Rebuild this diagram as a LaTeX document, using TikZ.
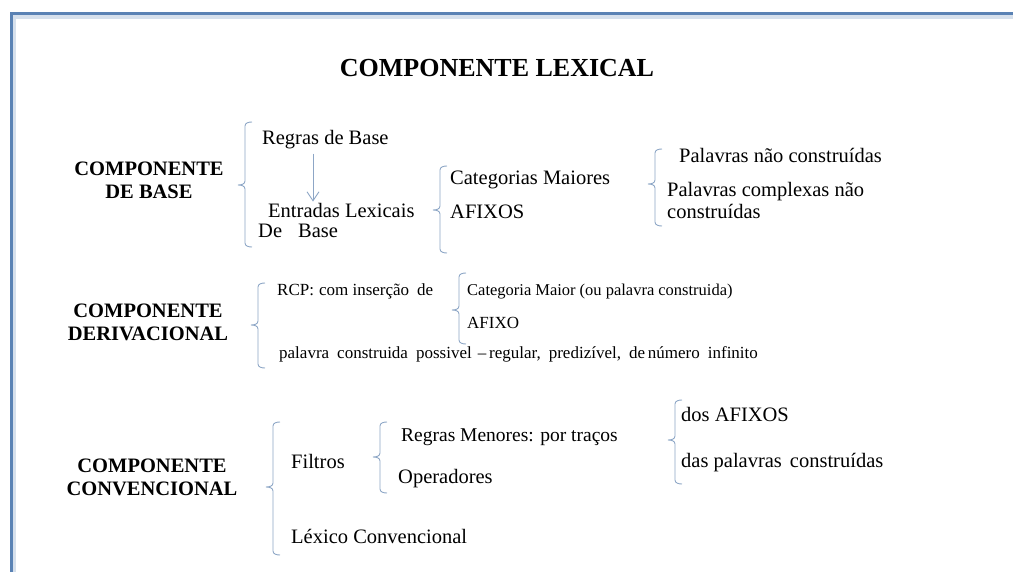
\documentclass[tikz,border=0pt]{standalone}
\usepackage{fontspec}
\setmainfont{Liberation Serif}
\usetikzlibrary{arrows.meta}
\definecolor{framecol}{HTML}{5A82B4}
\definecolor{brkcol}{HTML}{8DA6C6}
\tikzset{
  txt/.style={inner sep=0pt, anchor=base west, font=\fontsize{20.5}{23}\selectfont},
  sml/.style={inner sep=0pt, anchor=base west, font=\fontsize{17}{19}\selectfont},
  head/.style={inner sep=0pt, align=center, font=\fontsize{20.5}{23}\selectfont\bfseries},
  brk/.style={draw=brkcol, line width=0.9pt},
  arr/.style={draw=brkcol, line width=0.9pt, -{Straight Barb[length=9pt,width=12pt]}}
}
\newcommand{\lbrk}[4]{% x, top, bottom, middle
  \draw[brk] (#1+7,#2) to[out=180,in=90] (#1,#2+4) -- (#1,#4-4) to[out=-90,in=0] (#1-7,#4)
    to[out=0,in=90] (#1,#4+4) -- (#1,#3-4) to[out=-90,in=180] (#1+7,#3);}
\begin{document}
\begin{tikzpicture}[x=1pt,y=-1pt]
\useasboundingbox (0,0) rectangle (1013,572);
\fill[white] (0,0) rectangle (1013,572);
% frame
\draw[framecol!25, line width=4pt] (14,572) -- (14,17) -- (1013,17);
\draw[framecol, line width=3pt] (11,572) -- (11,13.5) -- (1013,13.5);
% title
\node[inner sep=0pt, anchor=base, font=\fontsize{26}{30}\selectfont\bfseries] (title) at (497,77) {COMPONENTE LEXICAL};

% ---------- componente de base
\node[head, anchor=base] (cbase) at (149,199) {COMPONENTE\\DE BASE};
\lbrk{245}{122}{247}{185}
\node[txt] (regras) at (262,145) {Regras de Base};
\node[txt] (entradas) at (268,218) {Entradas Lexicais};
\node[txt] (debase) at (258,238) {De\hspace{16pt}Base};
\coordinate (ax) at (313,0);
\draw[arr, shorten >=2pt] (regras.south -| ax) ++(0,4) -- (entradas.north -| ax);
\lbrk{440}{166}{253}{210}
\node[txt] (categ) at (450,185) {Categorias Maiores};
\node[txt] (afixos) at (450,219) {AFIXOS};
\lbrk{655}{149}{226}{184}
\node[txt] (pnc) at (679,163) {Palavras não construídas};
\node[txt] (pcn) at (667,197) {Palavras complexas não};
\node[txt] (constr) at (667,219) {construídas};

% ---------- componente derivacional
\node[head, anchor=base] (cderiv) at (148,341) {COMPONENTE\\DERIVACIONAL};
\lbrk{258}{283}{368}{325}
\node[sml] (rcp) at (277,296) {RCP:\hspace{5pt}com inserção\hspace{8pt}de};
\lbrk{459}{273}{344}{310}
\node[sml, font=\fontsize{16.5}{19}\selectfont] (catmaior) at (467,296) {Categoria\hspace{4pt}Maior\hspace{4pt}(ou palavra\hspace{4pt}construida)};
\node[sml] (afixo) at (467,329) {AFIXO};
\node[sml] (possivel) at (279,359) {palavra\hspace{8pt}construida\hspace{8pt}possivel\hspace{6pt}–\,regular,\hspace{8pt}predizível,\hspace{8pt}de\,número\hspace{8pt}infinito};

% ---------- componente convencional
\node[head, anchor=base] (cconv) at (152,495) {COMPONENTE\\CONVENCIONAL};
\lbrk{273}{422}{555}{487}
\node[txt] (filtros) at (291,468) {Filtros};
\lbrk{380}{422}{493}{457}
\node[txt, font=\fontsize{19.5}{23}\selectfont] (rmen) at (401,441) {Regras Menores: por traços};
\node[txt] (oper) at (398,483) {Operadores};
\node[txt] (lexico) at (291,543) {Léxico Convencional};
\lbrk{675}{400}{484}{440}
\node[txt] (dosaf) at (681,421) {dos AFIXOS};
\node[txt] (daspal) at (681,467) {das palavras\hspace{8pt}construídas};
\end{tikzpicture}
\end{document}
